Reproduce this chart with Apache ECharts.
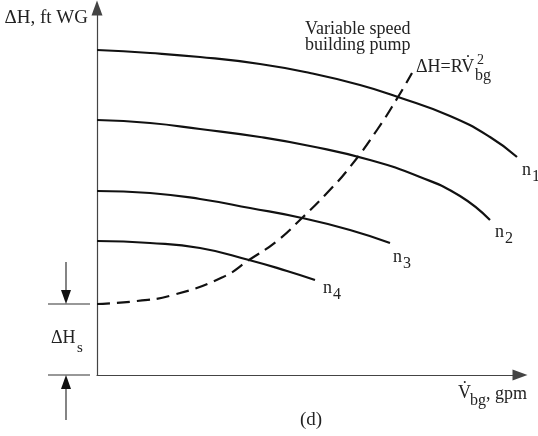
<!DOCTYPE html>
<html>
<head>
<meta charset="utf-8">
<script src="https://cdn.jsdelivr.net/npm/echarts@6/dist/echarts.min.js"></script>
<style>
  html, body { margin: 0; padding: 0; background: #fff; }
  #chart { width: 538px; height: 436px; }
</style>
</head>
<body>
<div id="chart"></div>
<script>
// pump curves (flow, head), arbitrary units
var n1 = [[0, 325], [53, 322], [103, 318], [163, 311], [213, 302], [263, 290], [301, 278], [353, 259], [393, 238], [420, 218]]
var n2 = [[0, 255], [53, 252], [103, 246], [163, 238], [213, 229], [273, 215], [323, 198], [363, 179], [393, 155]]
var n3 = [[0, 184], [53, 182], [103, 176], [153, 167], [205, 157], [253, 145], [293, 132]]
var n4 = [[0, 134], [53, 132], [103, 127], [152, 115], [190, 104], [218, 95]]
// system curve dH = Hs + R V^2
var system = [[0, 71], [40, 74], [76, 80], [126, 98], [152, 115], [180, 134], [205, 157], [230, 182], [253, 208], [280, 245], [301, 278], [315, 302]]
var staticHead = 71
var curveNames = ['n1', 'n2', 'n3', 'n4']

var chart = echarts.init(document.getElementById('chart'))
var serif = '"Liberation Serif", "DejaVu Serif", serif'

function pumpSeries(name, data) {
  return {
    name: name,
    type: 'line',
    data: data,
    smooth: 0.5,
    showSymbol: false,
    lineStyle: { color: '#111', width: 2.2 }
  }
}

function txt(x, y, s, size, align) {
  return {
    type: 'text',
    x: x,
    y: y,
    style: {
      text: s,
      font: size + 'px ' + serif,
      fill: '#222',
      textAlign: align || 'left',
      textVerticalAlign: 'middle'
    }
  }
}

var option = {
  animation: false,
  grid: { left: 97, right: 18, top: 8, bottom: 61 },
  xAxis: {
    type: 'value',
    min: 0,
    max: 423,
    axisLine: { lineStyle: { color: '#444', width: 1.2 }, symbol: ['none', 'triangle'], symbolSize: [11, 15] },
    axisTick: { show: false },
    axisLabel: { show: false },
    splitLine: { show: false }
  },
  yAxis: {
    type: 'value',
    min: 0,
    max: 367,
    axisLine: { show: true, lineStyle: { color: '#444', width: 1.2 }, symbol: ['none', 'triangle'], symbolSize: [11, 15] },
    axisTick: { show: false },
    axisLabel: { show: false },
    splitLine: { show: false }
  },
  series: [
    pumpSeries(curveNames[0], n1),
    pumpSeries(curveNames[1], n2),
    pumpSeries(curveNames[2], n3),
    pumpSeries(curveNames[3], n4),
    {
      name: 'system',
      type: 'line',
      data: system,
      smooth: 0.5,
      showSymbol: false,
      lineStyle: { color: '#111', width: 2.2, type: [13, 7] }
    }
  ]
}
chart.setOption(option)

// annotations, placed after the axes exist
var ends = [n1, n2, n3, n4].map(function(d) { return chart.convertToPixel({ gridIndex: 0 }, d[d.length - 1]) })
var yHs = chart.convertToPixel({ gridIndex: 0 }, [0, staticHead])[1]
var y0 = chart.convertToPixel({ gridIndex: 0 }, [0, 0])[1]
var g = [
  txt(88, 18, 'ΔH, ft WG', 19, 'right'),
  txt(305, 29, 'Variable speed', 18),
  txt(305, 45, 'building pump', 18),
  txt(416, 67, 'ΔH=RV̇', 18),
  txt(477, 60, '2', 14),
  txt(475, 76, 'bg', 16),
  txt(51, 338, 'ΔH', 18),
  txt(77, 348, 's', 15),
  txt(458, 393, 'V̇', 18),
  txt(470, 401, 'bg', 16),
  txt(486, 394, ', gpm', 18),
  txt(300, 420, '(d)', 19),
  // dimension lines for static head
  { type: 'line', shape: { x1: 48, y1: yHs, x2: 90, y2: yHs }, style: { stroke: '#333', lineWidth: 1.2 } },
  { type: 'line', shape: { x1: 48, y1: y0, x2: 90, y2: y0 }, style: { stroke: '#333', lineWidth: 1.2 } },
  { type: 'line', shape: { x1: 66, y1: yHs - 42, x2: 66, y2: yHs - 12 }, style: { stroke: '#333', lineWidth: 1.2 } },
  { type: 'polygon', shape: { points: [[61, yHs - 14], [71, yHs - 14], [66, yHs]] }, style: { fill: '#111' } },
  { type: 'line', shape: { x1: 66, y1: y0 + 12, x2: 66, y2: y0 + 45 }, style: { stroke: '#333', lineWidth: 1.2 } },
  { type: 'polygon', shape: { points: [[61, y0 + 14], [71, y0 + 14], [66, y0]] }, style: { fill: '#111' } }
]
var labelOffsets = [[5, 13], [5, 12], [3, 14], [8, 8]]
ends.forEach(function(p, i) {
  var ox = p[0] + labelOffsets[i][0]
  var oy = p[1] + labelOffsets[i][1]
  g.push(txt(ox, oy, 'n', 18))
  g.push(txt(ox + 10, oy + 7, curveNames[i].slice(1), 16))
})
chart.setOption({ graphic: g })
</script>
</body>
</html>
